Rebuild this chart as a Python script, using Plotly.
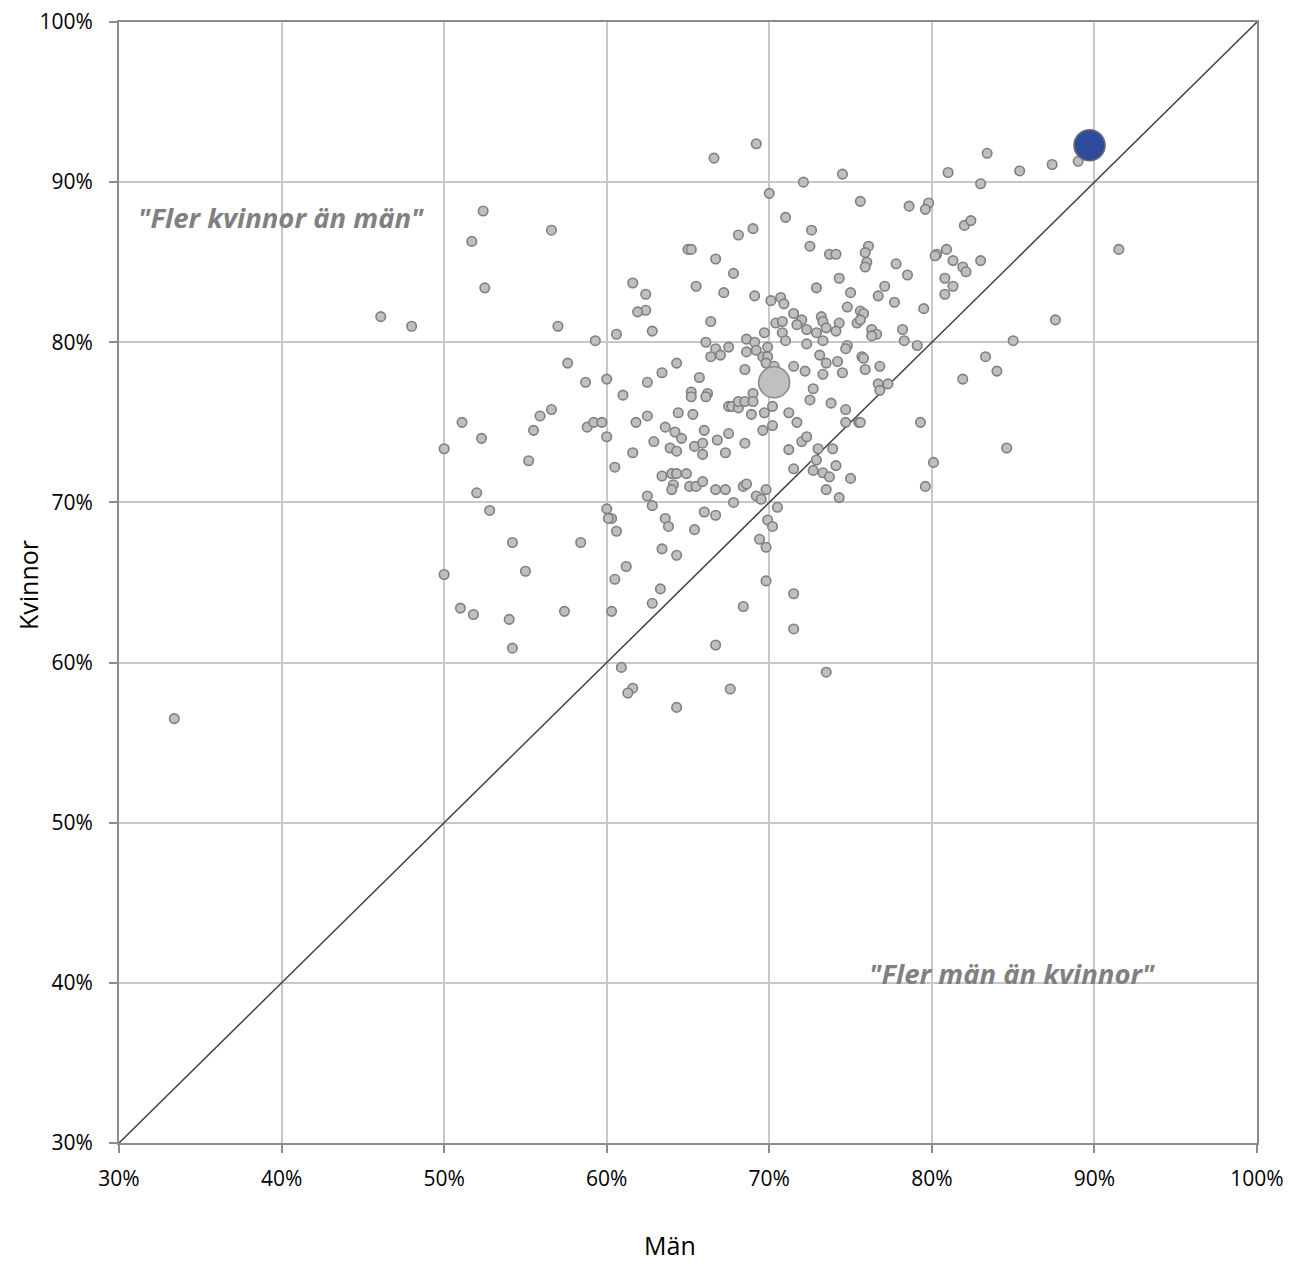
import plotly.graph_objects as go

# Men (x, %) and women (y, %) per unit
man = [66.6, 69.2, 74.5, 81.0, 83.4, 85.4, 87.4, 89.0, 83.0, 72.1, 70.0, 71.0, 72.6, 72.5, 68.1, 69.0,
       65.0, 65.2, 66.7, 67.8, 65.5, 67.2, 69.1, 62.4, 62.4, 61.9, 62.8, 66.4, 70.1, 70.7, 70.9, 71.5,
       72.0, 71.7, 72.3, 70.4, 70.8, 69.7, 70.8, 68.6, 73.2, 73.3, 73.5, 72.9, 73.7, 74.1, 74.3, 72.9,
       74.3, 74.1, 66.1, 52.4, 51.7, 56.6, 52.5, 61.6, 57.0, 60.6, 59.3, 75.6, 78.6, 79.8, 79.6, 82.0,
       82.4, 76.1, 75.9, 76.0, 75.9, 77.8, 78.5, 77.1, 76.7, 77.7, 75.0, 74.8, 75.6, 75.8, 75.4, 75.6,
       76.3, 76.6, 76.3, 78.2, 78.3, 79.5, 80.3, 80.2, 80.9, 81.3, 81.9, 82.1, 83.0, 80.8, 81.3, 80.8,
       87.6, 91.5, 85.0,
       57.6, 58.7, 60.0, 61.0, 51.1, 52.3, 50.0, 55.9, 56.6, 55.5, 55.2, 58.8, 59.2, 59.7, 61.8, 60.0,
       61.6, 60.5, 52.0, 52.8, 60.0, 60.3, 60.1, 60.6, 54.2, 58.4,
       66.7, 67.5, 66.4, 67.0, 69.1, 68.6, 69.2, 69.9, 69.6, 69.9, 71.0, 72.3, 73.3, 73.1, 73.5, 74.2,
       71.5, 72.2, 73.3, 69.8, 70.3, 68.5, 64.3, 63.4, 62.5, 65.7, 72.7, 72.5, 73.8, 65.2, 65.2, 66.2,
       66.1, 69.0, 67.5, 67.7, 68.1, 68.1, 68.5, 69.0, 70.2, 69.7, 68.9, 71.2, 71.7, 64.4, 65.3, 62.5,
       63.6, 64.2, 64.6, 66.0, 66.8, 67.5, 68.5, 69.6, 70.2, 62.9, 63.9, 64.3, 65.4, 65.9, 65.9, 67.3,
       71.2, 72.0, 72.3, 73.0, 73.9, 72.9, 74.1, 72.7, 71.5, 73.3, 73.7, 73.5, 63.4, 64.0, 64.3, 64.9,
       64.1, 64.0, 65.1, 65.5, 65.9, 66.7, 67.3, 68.4, 68.6, 69.2, 69.5, 69.8, 67.8, 62.5, 62.8, 66.0,
       66.7, 70.5, 63.6, 63.8, 69.9, 70.2, 65.4, 69.4,
       79.1, 74.8, 74.7, 75.7, 75.8, 74.5, 75.9, 76.8, 76.7, 77.3, 76.8, 83.3, 84.0, 81.9, 74.7, 74.7,
       75.5, 75.6, 79.3, 84.6, 80.1, 79.6, 75.0, 74.3,
       50.0, 55.0, 60.5, 61.2, 51.0, 51.8, 54.0, 57.4, 60.3, 54.2, 60.9, 61.6, 61.3,
       63.4, 64.3, 63.3, 62.8, 69.8, 69.8, 71.5, 71.5, 68.4, 66.7, 73.5, 67.6, 64.3,
       33.4, 46.1, 48.0]
kvinnor = [91.5, 92.4, 90.5, 90.6, 91.8, 90.7, 91.1, 91.3, 89.9, 90.0, 89.3, 87.8, 87.0, 86.0, 86.7, 87.1,
           85.8, 85.8, 85.2, 84.3, 83.5, 83.1, 82.9, 83.0, 82.0, 81.9, 80.7, 81.3, 82.6, 82.8, 82.4, 81.8,
           81.4, 81.1, 80.8, 81.2, 81.3, 80.6, 80.6, 80.2, 81.6, 81.3, 80.9, 80.6, 85.5, 85.5, 84.0, 83.4,
           81.2, 80.7, 80.0, 88.2, 86.3, 87.0, 83.4, 83.7, 81.0, 80.5, 80.1, 88.8, 88.5, 88.7, 88.3, 87.3,
           87.6, 86.0, 85.6, 85.0, 84.7, 84.9, 84.2, 83.5, 82.9, 82.5, 83.1, 82.2, 81.95, 81.8, 81.2, 81.4,
           80.8, 80.5, 80.4, 80.8, 80.1, 82.1, 85.5, 85.4, 85.8, 85.1, 84.7, 84.4, 85.1, 84.0, 83.5, 83.0,
           81.4, 85.8, 80.1,
           78.7, 77.5, 77.7, 76.7, 75.0, 74.0, 73.35, 75.4, 75.8, 74.5, 72.6, 74.7, 75.0, 75.0, 75.0, 74.1,
           73.1, 72.2, 70.6, 69.5, 69.6, 69.0, 69.0, 68.2, 67.5, 67.5,
           79.6, 79.7, 79.1, 79.2, 80.0, 79.4, 79.5, 79.7, 79.1, 79.1, 80.1, 79.9, 80.1, 79.2, 78.7, 78.8,
           78.5, 78.2, 78.0, 78.7, 78.5, 78.3, 78.7, 78.1, 77.5, 77.8, 77.1, 76.4, 76.2, 76.9, 76.6, 76.8,
           76.6, 76.8, 76.0, 76.0, 75.9, 76.3, 76.3, 76.3, 76.0, 75.6, 75.5, 75.6, 75.0, 75.6, 75.5, 75.4,
           74.7, 74.4, 74.0, 74.5, 73.9, 74.3, 73.7, 74.5, 74.8, 73.8, 73.4, 73.2, 73.5, 73.7, 73.0, 73.1,
           73.3, 73.8, 74.1, 73.35, 73.35, 72.65, 72.3, 72.0, 72.1, 71.85, 71.6, 70.8, 71.65, 71.8, 71.8, 71.8,
           71.1, 70.8, 71.0, 71.0, 71.3, 70.8, 70.8, 71.0, 71.15, 70.4, 70.2, 70.8, 70.0, 70.4, 69.8, 69.4,
           69.2, 69.7, 69.0, 68.5, 68.9, 68.5, 68.3, 67.7,
           79.8, 79.8, 79.6, 79.1, 79.0, 78.1, 78.3, 78.5, 77.4, 77.4, 77.0, 79.1, 78.2, 77.7, 75.8, 75.0,
           75.0, 75.0, 75.0, 73.4, 72.5, 71.0, 71.5, 70.3,
           65.5, 65.7, 65.2, 66.0, 63.4, 63.0, 62.7, 63.2, 63.2, 60.9, 59.7, 58.4, 58.1,
           67.1, 66.7, 64.6, 63.7, 67.2, 65.1, 64.3, 62.1, 63.5, 61.1, 59.4, 58.35, 57.2,
           56.5, 81.6, 81.0]

avg_man, avg_kvinnor = [70.3], [77.5]
sel_man, sel_kvinnor = [89.7], [92.3]
diag = [30, 100]
ticks = [30, 40, 50, 60, 70, 80, 90, 100]
tick_text = [f"{t}%" for t in ticks]

fig = go.Figure()
fig.add_trace(go.Scatter(x=diag, y=diag, mode="lines",
                         line=dict(color="#404040", width=1.5), hoverinfo="skip"))
fig.add_trace(go.Scatter(x=man, y=kvinnor, mode="markers",
                         marker=dict(size=9.5, color="#bfbfbf", line=dict(color="#7f7f7f", width=1.6))))
fig.add_trace(go.Scatter(x=avg_man, y=avg_kvinnor, mode="markers",
                         marker=dict(size=31, color="#c0c0c0", line=dict(color="#8c8c8c", width=1.6))))
fig.add_trace(go.Scatter(x=sel_man, y=sel_kvinnor, mode="markers",
                         marker=dict(size=31, color="#2f4b9b", line=dict(color="#6e6e6e", width=1.6))))

axis_common = dict(range=[30, 100], tickvals=ticks, ticktext=tick_text,
                   showgrid=True, gridcolor="#c8c8c8", gridwidth=1.5,
                   showline=True, linecolor="#8c8c8c", linewidth=2, mirror=True,
                   ticks="outside", ticklen=8, tickcolor="#8c8c8c", tickwidth=2,
                   zeroline=False, tickfont=dict(family="Open Sans", size=21, color="#000000"),
                   fixedrange=True, automargin=False, ticklabeloverflow="allow")
fig.update_xaxes(**axis_common, ticklabelstandoff=8)
fig.update_yaxes(**axis_common, ticklabelstandoff=12)

fig.add_annotation(text='<b><i>"Fler kvinnor än män"</i></b>', x=31.05, y=87.8, xanchor="left", yanchor="middle",
                   showarrow=False, font=dict(family="Open Sans", size=27.5, color="#808080"))
fig.add_annotation(text='<b><i>"Fler män än kvinnor"</i></b>', x=76.0, y=40.6, xanchor="left", yanchor="middle",
                   showarrow=False, font=dict(family="Open Sans", size=27.5, color="#808080"))
fig.add_annotation(text="Män", xref="paper", yref="paper", x=(670 - 119) / 1138, y=-(1245 - 1143) / 1121,
                   xanchor="center", yanchor="middle", showarrow=False,
                   font=dict(family="Open Sans", size=25, color="#000000"))
fig.add_annotation(text="Kvinnor", xref="paper", yref="paper", x=(28 - 119) / 1138, y=(1143 - 585) / 1121,
                   xanchor="center", yanchor="middle", showarrow=False, textangle=-90,
                   font=dict(family="Open Sans", size=25, color="#000000"))

# page body has an 8px margin: shrink the figure so the plot area lands where the reference has it
fig.update_layout(width=1283, height=1256, showlegend=False,
                  margin=dict(l=111, r=34, t=14, b=121),
                  plot_bgcolor="white", paper_bgcolor="white")

fig.write_html("out.html")
